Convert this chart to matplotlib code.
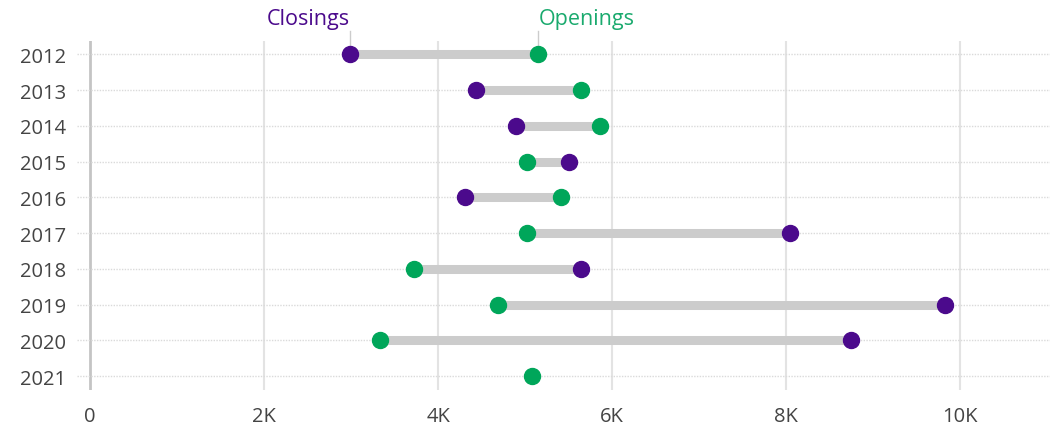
import matplotlib.pyplot as plt
import numpy as np

plt.rcParams['font.family'] = ['Open Sans', 'DejaVu Sans']

years = ['2012', '2013', '2014', '2015', '2016', '2017', '2018', '2019', '2020', '2021']
closings = [2990, 4430, 4890, 5500, 4310, 8040, 5640, 9820, 8740, np.nan]
openings = [5150, 5640, 5860, 5020, 5410, 5020, 3720, 4690, 3330, 5080]

purple = '#4b0a8c'
green = '#00a65a'

fig = plt.figure(figsize=(10.5, 4.27), dpi=100)
ax = fig.add_axes([77 / 1050, 36.5 / 427, 973 / 1050, 348.5 / 427])

y = np.arange(len(years))

# grey connector bars
for i in range(len(years)):
    if not np.isnan(closings[i]):
        ax.plot([closings[i], openings[i]], [y[i], y[i]], color='#cccccc', lw=6.5,
                solid_capstyle='butt', zorder=2)

ax.plot(closings, y, 'o', color=purple, ms=11.5, zorder=3)
ax.plot(openings, y, 'o', color=green, ms=11.5, zorder=3)

# dotted row lines
for yy in y:
    ax.axhline(yy, color='#dadada', lw=1, ls=(0, (1, 1)), zorder=1)

ax.set_xlim(-150, 11030)
ax.set_ylim(len(years) - 1 + 0.37, -0.37)
ax.set_xticks([0, 2000, 4000, 6000, 8000, 10000])
ax.set_xticklabels(['0', '2K', '4K', '6K', '8K', '10K'])
ax.set_yticks(y)
ax.set_yticklabels(years)
ax.tick_params(length=0, labelsize=14.5, labelcolor='#444444')
ax.tick_params(axis='x', pad=12)
ax.tick_params(axis='y', pad=8)
for x in [0, 2000, 4000, 6000, 8000, 10000]:
    ax.axvline(x, color='#c4c4c4' if x == 0 else '#e3e3e3', lw=2 if x == 0 else 1.5, zorder=0)
for s in ax.spines.values():
    s.set_visible(False)

# series labels over the first row
ax.text(closings[0], -0.7, 'Closings', color=purple, fontsize=15.5,
        ha='right', va='bottom')
ax.text(openings[0], -0.7, 'Openings', color='#1aaa6e', fontsize=15.5,
        ha='left', va='bottom')
for x in [closings[0], openings[0]]:
    ax.plot([x, x], [-0.26, -0.66], color='#cccccc', lw=1, clip_on=False)

fig.savefig('out.png', dpi=100)
